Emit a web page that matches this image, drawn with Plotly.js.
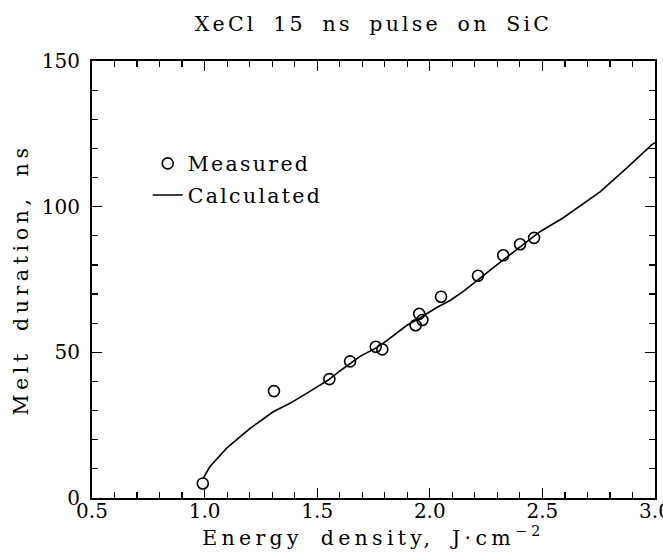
<!DOCTYPE html>
<html>
<head>
<meta charset="utf-8">
<script src="https://cdn.plot.ly/plotly-3.0.1.min.js"></script>
<style>
html,body{margin:0;padding:0;background:#fff;}
#chart{width:663px;height:557px;}
.gtitle{letter-spacing:3.2px;word-spacing:7px;}
.xtitle{letter-spacing:4.3px;word-spacing:7px;}
.ytitle{letter-spacing:4.6px;word-spacing:7px;}
.legendtext{letter-spacing:2.3px;}
</style>
</head>
<body>
<div id="chart"></div>
<script>
// Measured melt duration (ns) vs energy density (J/cm^2)
var measuredX = [0.992, 1.308, 1.554, 1.646, 1.760, 1.789, 1.937, 1.953, 1.967, 2.050, 2.214, 2.326, 2.401, 2.463];
var measuredY = [5.0, 36.7, 40.8, 46.9, 51.9, 51.0, 59.3, 63.2, 61.1, 69.1, 76.3, 83.3, 87.1, 89.3];

// Calculated curve
var calcX = [0.994, 1.024, 1.098, 1.202, 1.305, 1.379, 1.453, 1.549, 1.601, 1.690, 1.764, 1.809, 1.897, 1.956, 2.031, 2.090, 2.149, 2.208, 2.326, 2.489, 2.593, 2.756, 2.874, 2.985, 3.0];
var calcY = [6.8, 10.8, 17.1, 23.9, 29.6, 32.5, 35.9, 40.5, 43.6, 48.6, 51.6, 54.0, 59.2, 61.8, 65.4, 67.8, 70.9, 74.6, 81.7, 91.4, 96.2, 105.1, 113.2, 121.2, 122.0];

var titleText = "XeCl 15 ns pulse on SiC";
var xTitle = "Energy density, J\u00B7cm<sup>\u22122</sup>";
var yTitle = "Melt duration, ns";
var legendNames = ["Measured", "Calculated"];

var FONT = "DejaVu Serif, Liberation Serif, serif";

var traces = [
  {
    x: measuredX, y: measuredY, type: "scatter", mode: "markers", name: legendNames[0],
    legendgroup: "a",
    marker: {symbol: "circle-open", size: 11, color: "#000", line: {width: 1.6, color: "#000"}}
  },
  {
    x: calcX, y: calcY, type: "scatter", mode: "lines", name: legendNames[1],
    legendgroup: "b",
    line: {color: "#000", width: 1.6}
  }
];

var axisCommon = {
  showline: true, linecolor: "#000", linewidth: 2, mirror: "allticks",
  ticks: "inside", ticklen: 10, tickwidth: 1.3, tickcolor: "#000",
  showgrid: false, zeroline: false,
  tickfont: {family: FONT, size: 20, color: "#000"}
};

var layout = {
  width: 663, height: 557,
  margin: {l: 92, r: 8, t: 61, b: 59},
  paper_bgcolor: "#fff", plot_bgcolor: "#fff",
  font: {family: FONT, color: "#000"},
  title: {text: titleText, x: 0.5, xref: "paper", y: 1 - 24/557, yref: "container", yanchor: "middle",
          font: {family: FONT, size: 20.5, color: "#000"}},
  xaxis: Object.assign({}, axisCommon, {
    range: [0.5, 3.0], dtick: 0.5, tick0: 0.5, tickformat: ".1f",
    ticklabeloverflow: "allow", ticklabelstandoff: -6,
    minor: {dtick: 0.1, ticks: "inside", ticklen: 6, tickcolor: "#000", tickwidth: 1.2, showgrid: false},
    title: {text: xTitle, font: {family: FONT, size: 20.5, color: "#000"}, standoff: 8}
  }),
  yaxis: Object.assign({}, axisCommon, {
    range: [0, 150], dtick: 50, tick0: 0,
    ticklabelstandoff: 6,
    minor: {dtick: 10, ticks: "inside", ticklen: 6, tickcolor: "#000", tickwidth: 1.2, showgrid: false},
    title: {text: yTitle, font: {family: FONT, size: 20.5, color: "#000"}, standoff: 8}
  }),
  showlegend: true,
  legend: {x: 0.099, y: 0.811, xanchor: "left", yanchor: "top", bgcolor: "rgba(0,0,0,0)",
           font: {family: FONT, size: 20.5, color: "#000"}, tracegroupgap: 2, borderwidth: 0}
};

Plotly.newPlot("chart", traces, layout, {displayModeBar: false, staticPlot: true});
</script>
</body>
</html>
